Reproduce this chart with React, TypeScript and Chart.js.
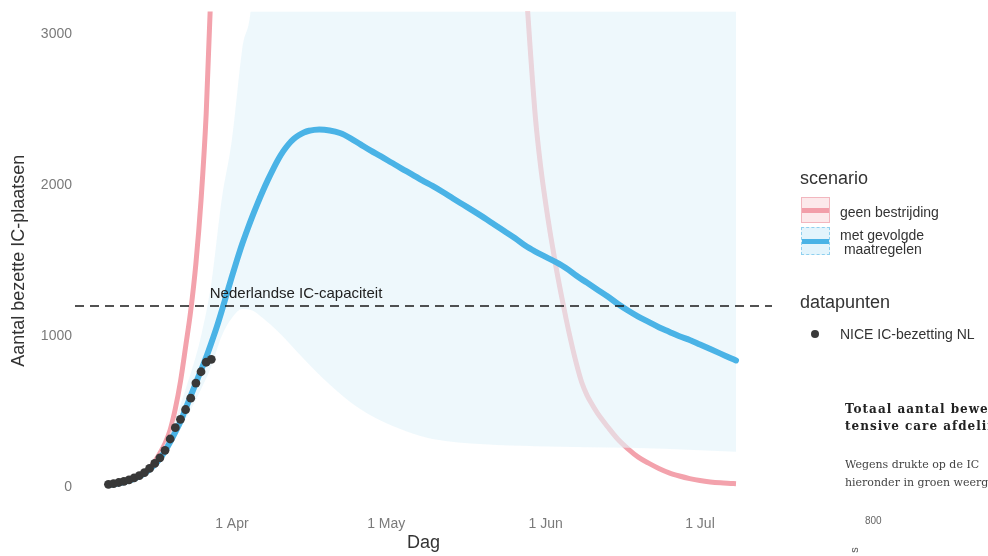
import React, { useEffect, useRef } from "react";
import { Chart, registerables } from "chart.js";

Chart.register(...registerables);

// x values are days counted from 29 Feb 2020 (1 Mar = day 1)
const tickDays = [31, 61, 92, 122];
const tickLabels = ["1 Apr", "1 May", "1 Jun", "1 Jul"];
const yTicks = [0, 1000, 2000, 3000];

const capacityValue = 1200;
const capacityLabel = "Nederlandse IC-capaciteit";
const capacityLabelDay = 26.7;

// NICE IC-bezetting NL (data points)
const niceDays = [7, 8, 9, 10, 11, 12, 13, 14, 15, 16, 17, 18, 19, 20, 21, 22, 23, 24, 25, 26, 27];
const niceValues = [20, 25, 32, 40, 50, 63, 78, 98, 125, 158, 195, 245, 320, 395, 450, 515, 590, 690, 765, 828, 847];

// scenario: met gevolgde maatregelen (line)
const blueDays = [7, 8, 9, 10, 11, 12, 13, 14, 15, 16, 17, 18, 19, 20, 21, 22, 23, 24, 25, 26, 27, 28, 29, 30, 31, 32, 33, 34, 35, 36, 37, 38, 39, 40, 41, 42, 43, 44, 45, 46, 47, 48, 50, 52, 54, 56, 58, 60, 62, 64, 66, 68, 70, 72, 74, 76, 78, 80, 82, 84, 86, 88, 90, 92, 94, 96, 98, 100, 102, 104, 106, 108, 110, 112, 114, 116, 118, 120, 122, 124, 126, 128, 129];
const blueValues = [15, 20, 26, 34, 44, 56, 72, 92, 118, 150, 190, 240, 300, 365, 435, 520, 605, 690, 775, 860, 955, 1055, 1165, 1280, 1395, 1505, 1610, 1705, 1795, 1880, 1960, 2035, 2105, 2170, 2225, 2270, 2305, 2330, 2348, 2360, 2366, 2368, 2362, 2345, 2312, 2270, 2228, 2190, 2150, 2110, 2072, 2032, 1995, 1955, 1912, 1870, 1828, 1785, 1740, 1695, 1650, 1600, 1560, 1525, 1490, 1450, 1400, 1355, 1310, 1265, 1215, 1170, 1130, 1095, 1060, 1030, 1000, 975, 945, 915, 885, 855, 840];

// scenario: met gevolgde maatregelen (uncertainty band)
const bandDays = [7, 10, 14, 18, 22, 25, 27, 29, 31, 33, 35, 37, 40, 45, 50, 55, 60, 65, 70, 80, 90, 100, 108, 115, 122, 129];
const bandUpper = [25, 45, 110, 290, 650, 1000, 1350, 1900, 2300, 2900, 3300, 5000, 5000, 5000, 5000, 5000, 5000, 5000, 5000, 5000, 5000, 5000, 5000, 5000, 5000, 5000];
const bandLower = [12, 28, 75, 210, 450, 650, 800, 1000, 1120, 1180, 1170, 1120, 1030, 850, 680, 540, 440, 370, 320, 285, 272, 266, 262, 255, 245, 235];

// scenario: geen bestrijding (line; leaves the chart between the gap)
const pinkDays = [7, 8, 9, 10, 11, 12, 13, 14, 15, 16, 17, 18, 19, 20, 21, 22, 23, 24, 25, 26, 27, 28, 60, 87, 88, 89, 90, 91, 92, 93, 94, 95, 96, 97, 98, 99, 100, 101, 102, 103, 104, 106, 108, 110, 112, 114, 116, 118, 120, 122, 124, 126, 128, 129];
const pinkValues = [15, 20, 26, 34, 44, 57, 74, 97, 128, 170, 225, 290, 380, 520, 700, 930, 1170, 1480, 1900, 2470, 3350, 4500, null, 4000, 3400, 2900, 2450, 2130, 1880, 1660, 1460, 1280, 1110, 955, 815, 695, 612, 550, 495, 447, 403, 320, 255, 200, 160, 125, 96, 75, 58, 45, 36, 30, 26, 24];

const FONT = '"Liberation Sans", Arial, Helvetica, sans-serif';

const toXY = (xs: number[], ys: (number | null)[]) => xs.map((x, i) => ({ x, y: ys[i] }));

const capLabelPlugin = {
  id: "capLabel",
  afterDatasetsDraw(chart: any) {
    const { ctx, scales } = chart;
    ctx.save();
    ctx.font = `15px ${FONT}`;
    ctx.fillStyle = "#222";
    ctx.textBaseline = "middle";
    ctx.textAlign = "left";
    ctx.fillText(
      capacityLabel,
      scales.x.getPixelForValue(capacityLabelDay),
      scales.y.getPixelForValue(capacityValue) - 12
    );
    ctx.restore();
  },
};

function ChartCanvas() {
  const ref = useRef<HTMLCanvasElement | null>(null);
  useEffect(() => {
    if (!ref.current) return;
    const xMin = 0.5;
    const xMax = 136;
    const chart = new Chart(ref.current, {
      type: "line",
      data: {
        datasets: [
          {
            label: "cap",
            data: [
              { x: xMin, y: capacityValue },
              { x: xMax, y: capacityValue },
            ],
            borderColor: "#1a1a1a",
            borderWidth: 1.6,
            borderDash: [9, 6],
            pointRadius: 0,
            fill: false,
            order: 0,
          },
          {
            type: "scatter",
            label: "NICE IC-bezetting NL",
            data: toXY(niceDays, niceValues),
            backgroundColor: "#383838",
            borderWidth: 0,
            pointRadius: 4.4,
            order: 1,
          } as any,
          {
            label: "met gevolgde maatregelen",
            data: toXY(blueDays, blueValues),
            borderColor: "#4ab3e6",
            borderWidth: 6,
            pointRadius: 0,
            cubicInterpolationMode: "monotone",
            borderCapStyle: "round",
            borderJoinStyle: "round",
            fill: false,
            order: 2,
          },
          {
            label: "band upper",
            data: toXY(bandDays, bandUpper),
            borderWidth: 0,
            borderColor: "rgba(0,0,0,0)",
            pointRadius: 0,
            cubicInterpolationMode: "monotone",
            fill: "+1",
            backgroundColor: "rgba(227,243,250,0.62)",
            order: 3,
          },
          {
            label: "band lower",
            data: toXY(bandDays, bandLower),
            borderWidth: 0,
            borderColor: "rgba(0,0,0,0)",
            pointRadius: 0,
            cubicInterpolationMode: "monotone",
            fill: false,
            order: 4,
          },
          {
            label: "geen bestrijding",
            data: toXY(pinkDays, pinkValues),
            borderColor: "#f3a2ac",
            borderWidth: 5,
            pointRadius: 0,
            cubicInterpolationMode: "monotone",
            spanGaps: false,
            fill: false,
            order: 5,
          },
        ],
      },
      options: {
        animation: false,
        responsive: false,
        maintainAspectRatio: false,
        layout: { padding: { top: 8, right: 216, left: 0, bottom: 0 } },
        plugins: {
          legend: { display: false },
          tooltip: { enabled: false },
        },
        scales: {
          x: {
            type: "linear",
            min: xMin,
            max: xMax,
            border: { display: false },
            grid: { display: false, drawTicks: false },
            afterBuildTicks: (s: any) => {
              s.ticks = tickDays.map((v) => ({ value: v }));
            },
            afterFit: (s: any) => {
              s.height = 46;
            },
            ticks: {
              padding: 6,
              color: "#7a7a7a",
              font: { size: 14, family: FONT },
              autoSkip: false,
              maxRotation: 0,
              callback: (v: any) => {
                const i = tickDays.indexOf(Number(v));
                return i >= 0 ? tickLabels[i] : "";
              },
            },
            title: {
              display: true,
              text: "Dag",
              color: "#333",
              font: { size: 18, family: FONT },
              padding: { top: 0, bottom: 2 },
            },
          },
          y: {
            type: "linear",
            min: -150,
            max: 3150,
            border: { display: false },
            grid: { display: false, drawTicks: false },
            afterBuildTicks: (s: any) => {
              s.ticks = yTicks.map((v) => ({ value: v }));
            },
            afterFit: (s: any) => {
              s.width = 75;
            },
            ticks: {
              padding: 3,
              color: "#7a7a7a",
              font: { size: 14, family: FONT },
              callback: (v: any) => String(v),
            },
            title: {
              display: true,
              text: "Aantal bezette IC-plaatsen",
              color: "#333",
              font: { size: 18, family: FONT },
              padding: { top: 8, bottom: 0 },
            },
          },
        },
      },
      plugins: [capLabelPlugin],
    } as any);
    return () => chart.destroy();
  }, []);
  return (
    <canvas
      ref={ref}
      width={988}
      height={556}
      style={{ position: "absolute", left: 0, top: 0, width: 988, height: 556 }}
    />
  );
}

const abs = (left: number, top: number, extra: React.CSSProperties = {}): React.CSSProperties => ({
  position: "absolute",
  left,
  top,
  whiteSpace: "pre",
  ...extra,
});

export default function App() {
  const legendTitle: React.CSSProperties = { font: `18px ${FONT}`, color: "#333", lineHeight: "20px" };
  const legendText: React.CSSProperties = { font: `14px ${FONT}`, color: "#333", lineHeight: "14px" };
  const serif = '"DejaVu Serif", "Liberation Serif", serif';
  return (
    <div
      style={{
        position: "absolute",
        left: 0,
        top: 0,
        width: 988,
        height: 556,
        overflow: "hidden",
        background: "#ffffff",
      }}
    >
      <ChartCanvas />
      {/* legend: scenario */}
      <div style={abs(800, 168, legendTitle)}>scenario</div>
      <div
        style={abs(801, 197, {
          width: 27,
          height: 24,
          border: "1px solid #f2b6be",
          background: "#fce9eb",
        })}
      >
        <div style={{ position: "absolute", left: 0, right: 0, top: 10, height: 5, background: "#f29ea9" }} />
      </div>
      <div style={abs(840, 205, legendText)}>geen bestrijding</div>
      <div
        style={abs(801, 227, {
          width: 27,
          height: 26,
          border: "1px dashed #8fd0ef",
          background: "#e3f4fc",
        })}
      >
        <div style={{ position: "absolute", left: 0, right: 0, top: 11, height: 5, background: "#4ab3e6" }} />
      </div>
      <div style={abs(840, 228, legendText)}>{"met gevolgde\n maatregelen"}</div>
      {/* legend: datapunten */}
      <div style={abs(800, 292, legendTitle)}>datapunten</div>
      <div
        style={abs(811, 330, { width: 8, height: 8, borderRadius: "50%", background: "#3a3a3a" })}
      />
      <div style={abs(840, 327, legendText)}>NICE IC-bezetting NL</div>
      {/* surrounding page text (scan) */}
      <div style={abs(845, 401, { font: `bold 12px ${serif}`, color: "#222", lineHeight: "17px", letterSpacing: "1px" })}>
        {"Totaal aantal bewezen\ntensive care afdelingen"}
      </div>
      <div style={abs(845, 456, { font: `11px ${serif}`, color: "#444", lineHeight: "18px" })}>
        {"Wegens drukte op de IC\nhieronder in groen weergegeven"}
      </div>
      <div style={abs(865, 515, { font: `10px ${FONT}`, color: "#666" })}>800</div>
      <div
        style={abs(851, 544, {
          font: `11px ${FONT}`,
          color: "#555",
          transform: "rotate(-90deg)",
        })}
      >
        s
      </div>
    </div>
  );
}
